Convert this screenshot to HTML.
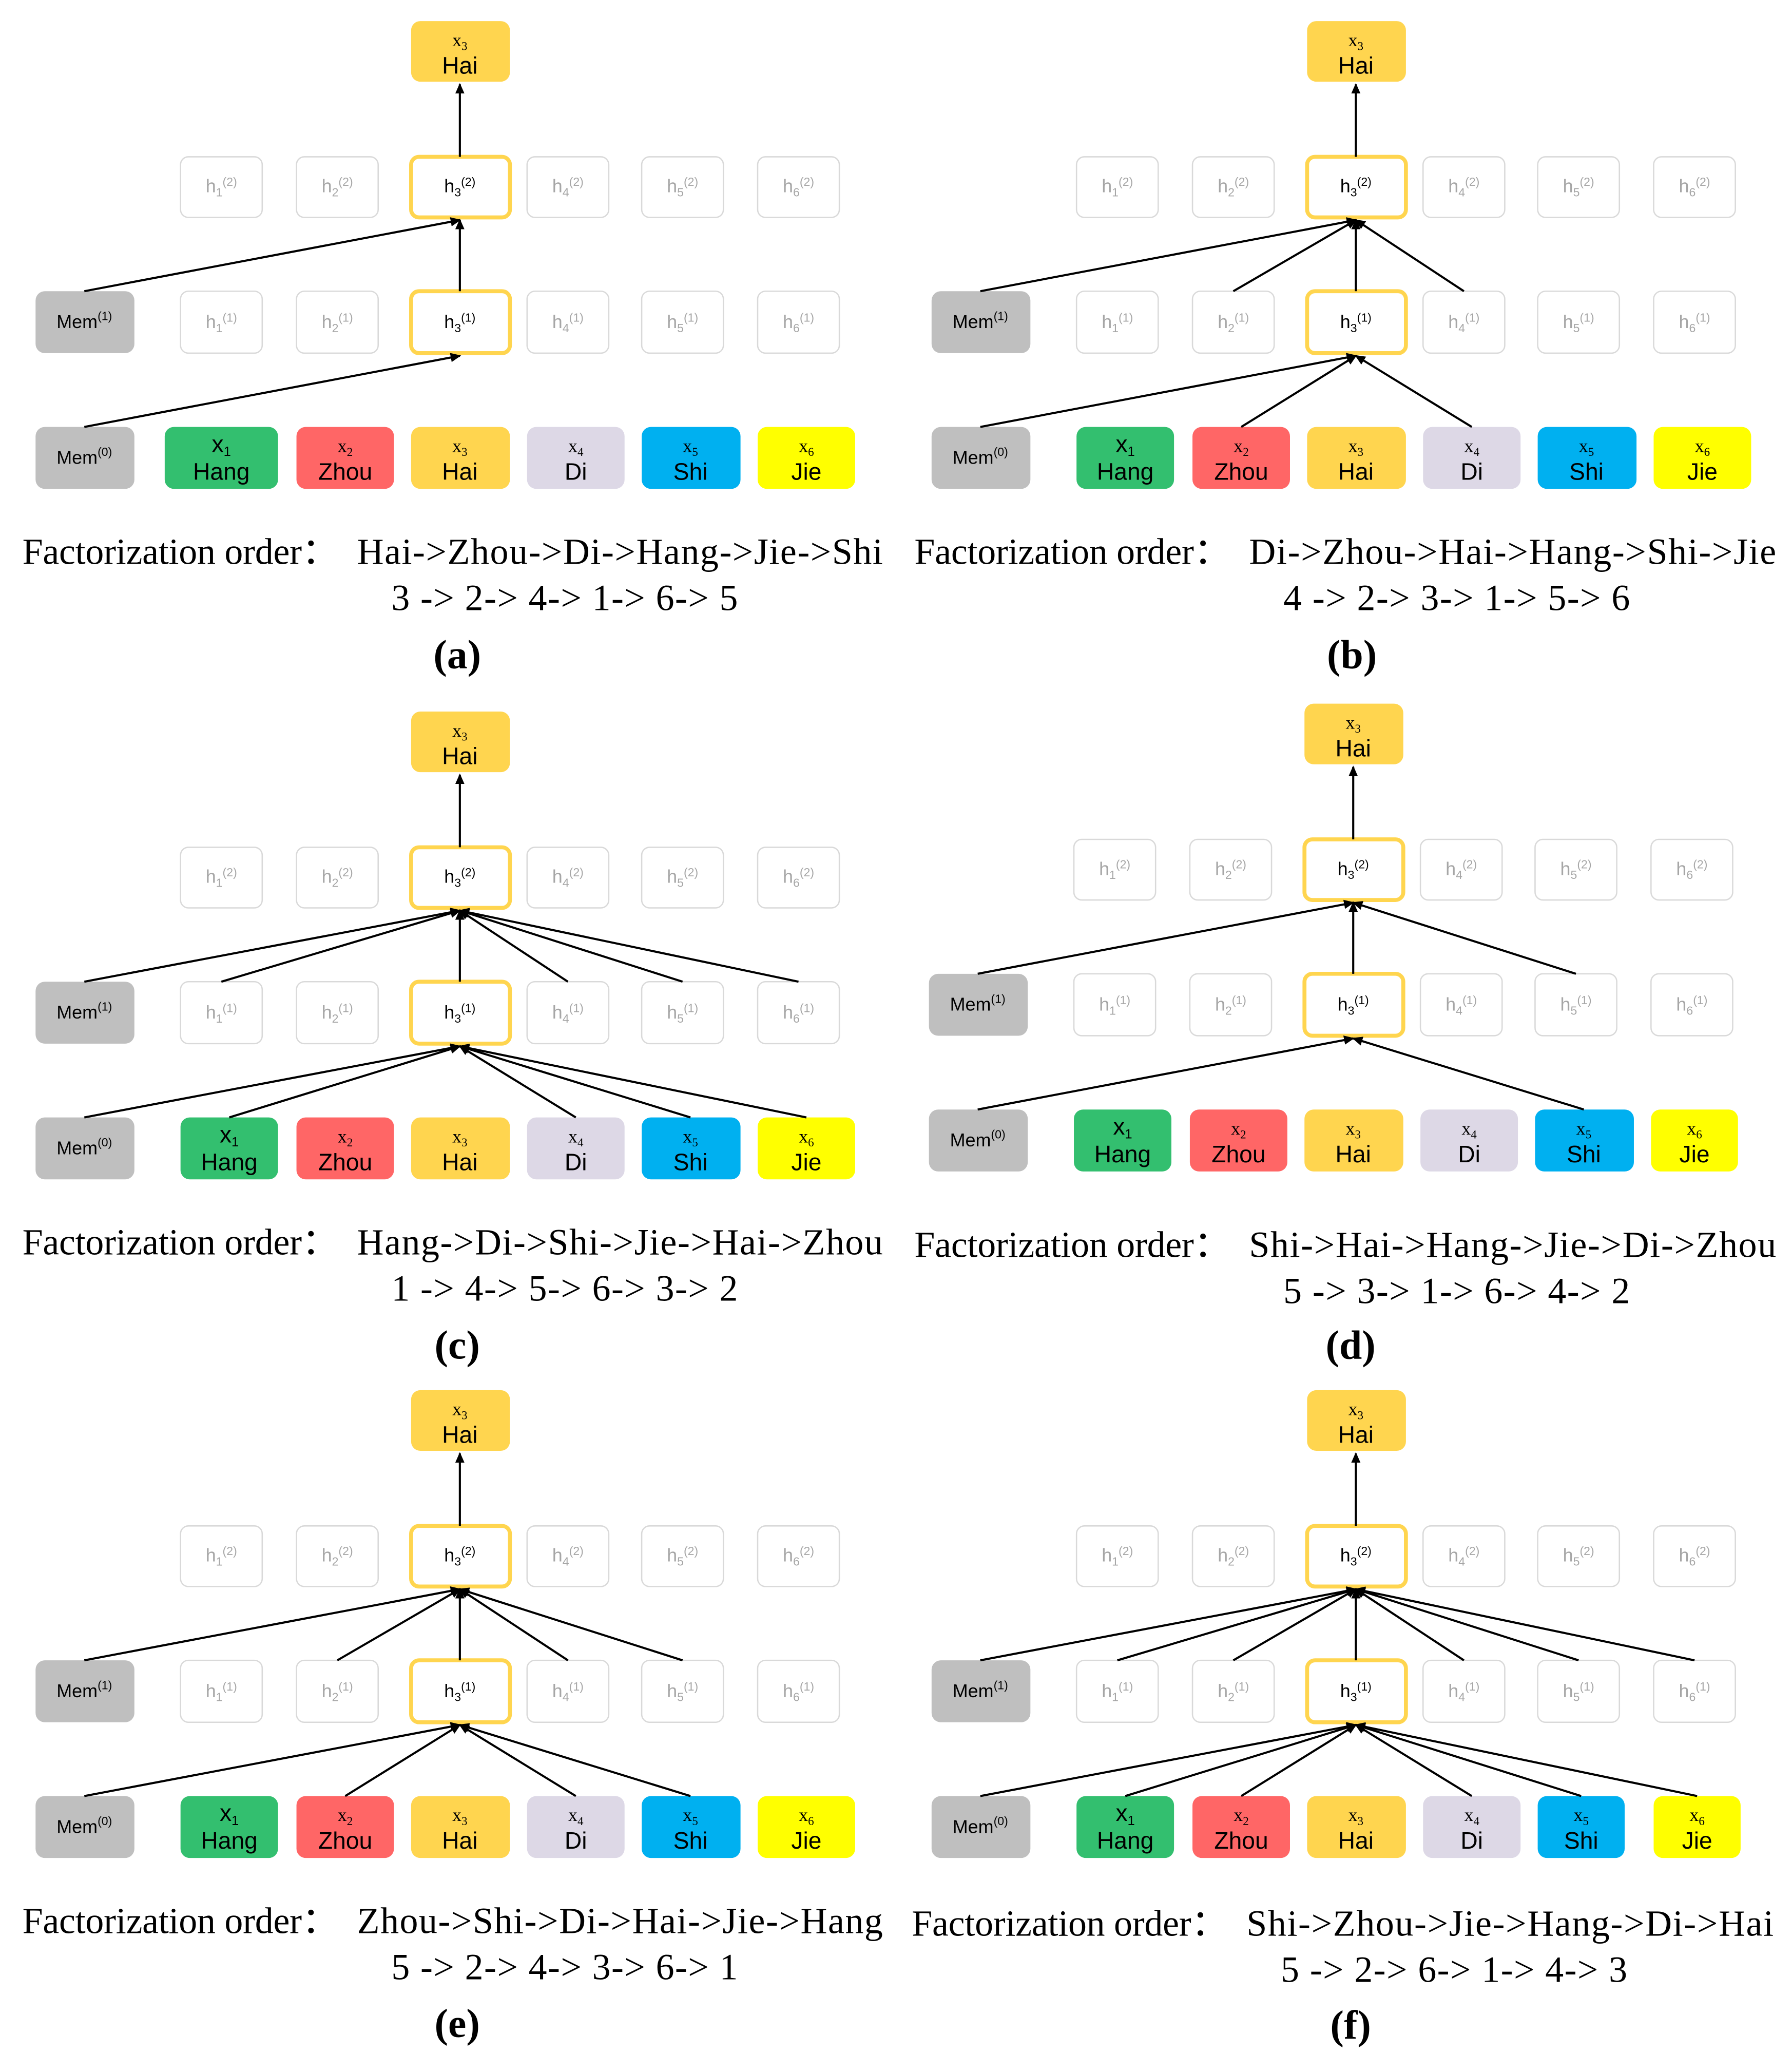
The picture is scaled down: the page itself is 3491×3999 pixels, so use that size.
<!DOCTYPE html>
<html><head><meta charset="utf-8"><style>
html,body{margin:0;padding:0;background:#fff}
svg{display:block}
.t{font-family:"Liberation Serif",serif;fill:#000}
.s{font-family:"Liberation Sans",sans-serif}
.f{fill:#fff;stroke:#d9d9d9;stroke-width:1}
.hl{fill:#fff;stroke:#FFD54F;stroke-width:3}
.hg{font-family:"Liberation Sans",sans-serif;font-size:14px;fill:#a6a6a6;text-anchor:middle}
.hb{font-family:"Liberation Sans",sans-serif;font-size:14px;fill:#000;text-anchor:middle}
.xl{font-family:"Liberation Serif",serif;font-size:14px;text-anchor:middle}
.wl{font-family:"Liberation Sans",sans-serif;font-size:18px;text-anchor:middle}
.a{stroke:#000;stroke-width:1.6;fill:none;marker-end:url(#ar)}
</style></head><body>
<svg width="3491" height="3999" viewBox="0 0 1360 1558" preserveAspectRatio="none" xmlns="http://www.w3.org/2000/svg">
<defs><marker id="ar" markerWidth="8" markerHeight="8" refX="7" refY="4" orient="auto" markerUnits="userSpaceOnUse"><path d="M0,0.5 L8,4 L0,7.5 z" fill="#000"/></marker></defs>

<!-- ========== PANEL TEMPLATE written out 6 times ========== -->
<!-- (a) -->
<g transform="translate(0,0)">
<rect x="312" y="16" width="75" height="46" rx="7" fill="#FFD54F"/>
<text class="xl" x="349" y="35">x<tspan font-size="9" dy="3">3</tspan></text><text class="wl" x="349" y="56">Hai</text>
<rect class="f" x="137" y="119" width="62" height="46" rx="6"/><rect class="f" x="225" y="119" width="62" height="46" rx="6"/><rect class="hl" x="312" y="119" width="75" height="46" rx="6"/><rect class="f" x="400" y="119" width="62" height="46" rx="6"/><rect class="f" x="487" y="119" width="62" height="46" rx="6"/><rect class="f" x="575" y="119" width="62" height="46" rx="6"/>
<text class="hg" x="168" y="146">h<tspan font-size="9" dy="3">1</tspan><tspan font-size="9" dy="-8">(2)</tspan></text><text class="hg" x="256" y="146">h<tspan font-size="9" dy="3">2</tspan><tspan font-size="9" dy="-8">(2)</tspan></text><text class="hb" x="349" y="146">h<tspan font-size="9" dy="3">3</tspan><tspan font-size="9" dy="-8">(2)</tspan></text><text class="hg" x="431" y="146">h<tspan font-size="9" dy="3">4</tspan><tspan font-size="9" dy="-8">(2)</tspan></text><text class="hg" x="518" y="146">h<tspan font-size="9" dy="3">5</tspan><tspan font-size="9" dy="-8">(2)</tspan></text><text class="hg" x="606" y="146">h<tspan font-size="9" dy="3">6</tspan><tspan font-size="9" dy="-8">(2)</tspan></text>
<rect x="27" y="221" width="75" height="47" rx="7" fill="#BFBFBF"/><text class="hb" x="64" y="249">Mem<tspan font-size="9" dy="-6">(1)</tspan></text>
<rect class="f" x="137" y="221" width="62" height="47" rx="6"/><rect class="f" x="225" y="221" width="62" height="47" rx="6"/><rect class="hl" x="312" y="221" width="75" height="47" rx="6"/><rect class="f" x="400" y="221" width="62" height="47" rx="6"/><rect class="f" x="487" y="221" width="62" height="47" rx="6"/><rect class="f" x="575" y="221" width="62" height="47" rx="6"/>
<text class="hg" x="168" y="249">h<tspan font-size="9" dy="3">1</tspan><tspan font-size="9" dy="-8">(1)</tspan></text><text class="hg" x="256" y="249">h<tspan font-size="9" dy="3">2</tspan><tspan font-size="9" dy="-8">(1)</tspan></text><text class="hb" x="349" y="249">h<tspan font-size="9" dy="3">3</tspan><tspan font-size="9" dy="-8">(1)</tspan></text><text class="hg" x="431" y="249">h<tspan font-size="9" dy="3">4</tspan><tspan font-size="9" dy="-8">(1)</tspan></text><text class="hg" x="518" y="249">h<tspan font-size="9" dy="3">5</tspan><tspan font-size="9" dy="-8">(1)</tspan></text><text class="hg" x="606" y="249">h<tspan font-size="9" dy="3">6</tspan><tspan font-size="9" dy="-8">(1)</tspan></text>
<rect x="27" y="324" width="75" height="47" rx="7" fill="#BFBFBF"/><text class="hb" x="64" y="352">Mem<tspan font-size="9" dy="-6">(0)</tspan></text>
<rect x="125" y="324" width="86" height="47" rx="7" fill="#33BF6F"/><rect x="225" y="324" width="74" height="47" rx="7" fill="#FF6666"/><rect x="312" y="324" width="75" height="47" rx="7" fill="#FFD54F"/><rect x="400" y="324" width="74" height="47" rx="7" fill="#DDD8E6"/><rect x="487" y="324" width="75" height="47" rx="7" fill="#00B0F0"/><rect x="575" y="324" width="74" height="47" rx="7" fill="#FFFF00"/>
<text class="wl" x="168" y="343" font-size="15">x<tspan font-size="10" dy="3">1</tspan></text><text class="wl" x="168" y="364">Hang</text>
<text class="xl" x="262" y="343">x<tspan font-size="9" dy="3">2</tspan></text><text class="wl" x="262" y="364">Zhou</text>
<text class="xl" x="349" y="343">x<tspan font-size="9" dy="3">3</tspan></text><text class="wl" x="349" y="364">Hai</text>
<text class="xl" x="437" y="343">x<tspan font-size="9" dy="3">4</tspan></text><text class="wl" x="437" y="364">Di</text>
<text class="xl" x="524" y="343">x<tspan font-size="9" dy="3">5</tspan></text><text class="wl" x="524" y="364">Shi</text>
<text class="xl" x="612" y="343">x<tspan font-size="9" dy="3">6</tspan></text><text class="wl" x="612" y="364">Jie</text>
<line class="a" x1="349" y1="119" x2="349" y2="64"/>
<line class="a" x1="349" y1="221" x2="349" y2="167"/>
<line class="a" x1="64" y1="221" x2="349" y2="167"/>
<line class="a" x1="64" y1="324" x2="349" y2="270"/>
<text class="t" x="17" y="428" font-size="28" textLength="240">Factorization order：</text>
<text class="t" x="271" y="428" font-size="28" textLength="399">Hai-&gt;Zhou-&gt;Di-&gt;Hang-&gt;Jie-&gt;Shi</text>
<text class="t" x="297" y="463" font-size="28" textLength="263">3 -&gt; 2-&gt; 4-&gt; 1-&gt; 6-&gt; 5</text>
<text class="t" x="347" y="507" font-size="31" font-weight="bold" text-anchor="middle">(a)</text>
</g>

<!-- (b) -->
<g transform="translate(680,0)">
<rect x="312" y="16" width="75" height="46" rx="7" fill="#FFD54F"/>
<text class="xl" x="349" y="35">x<tspan font-size="9" dy="3">3</tspan></text><text class="wl" x="349" y="56">Hai</text>
<rect class="f" x="137" y="119" width="62" height="46" rx="6"/><rect class="f" x="225" y="119" width="62" height="46" rx="6"/><rect class="hl" x="312" y="119" width="75" height="46" rx="6"/><rect class="f" x="400" y="119" width="62" height="46" rx="6"/><rect class="f" x="487" y="119" width="62" height="46" rx="6"/><rect class="f" x="575" y="119" width="62" height="46" rx="6"/>
<text class="hg" x="168" y="146">h<tspan font-size="9" dy="3">1</tspan><tspan font-size="9" dy="-8">(2)</tspan></text><text class="hg" x="256" y="146">h<tspan font-size="9" dy="3">2</tspan><tspan font-size="9" dy="-8">(2)</tspan></text><text class="hb" x="349" y="146">h<tspan font-size="9" dy="3">3</tspan><tspan font-size="9" dy="-8">(2)</tspan></text><text class="hg" x="431" y="146">h<tspan font-size="9" dy="3">4</tspan><tspan font-size="9" dy="-8">(2)</tspan></text><text class="hg" x="518" y="146">h<tspan font-size="9" dy="3">5</tspan><tspan font-size="9" dy="-8">(2)</tspan></text><text class="hg" x="606" y="146">h<tspan font-size="9" dy="3">6</tspan><tspan font-size="9" dy="-8">(2)</tspan></text>
<rect x="27" y="221" width="75" height="47" rx="7" fill="#BFBFBF"/><text class="hb" x="64" y="249">Mem<tspan font-size="9" dy="-6">(1)</tspan></text>
<rect class="f" x="137" y="221" width="62" height="47" rx="6"/><rect class="f" x="225" y="221" width="62" height="47" rx="6"/><rect class="hl" x="312" y="221" width="75" height="47" rx="6"/><rect class="f" x="400" y="221" width="62" height="47" rx="6"/><rect class="f" x="487" y="221" width="62" height="47" rx="6"/><rect class="f" x="575" y="221" width="62" height="47" rx="6"/>
<text class="hg" x="168" y="249">h<tspan font-size="9" dy="3">1</tspan><tspan font-size="9" dy="-8">(1)</tspan></text><text class="hg" x="256" y="249">h<tspan font-size="9" dy="3">2</tspan><tspan font-size="9" dy="-8">(1)</tspan></text><text class="hb" x="349" y="249">h<tspan font-size="9" dy="3">3</tspan><tspan font-size="9" dy="-8">(1)</tspan></text><text class="hg" x="431" y="249">h<tspan font-size="9" dy="3">4</tspan><tspan font-size="9" dy="-8">(1)</tspan></text><text class="hg" x="518" y="249">h<tspan font-size="9" dy="3">5</tspan><tspan font-size="9" dy="-8">(1)</tspan></text><text class="hg" x="606" y="249">h<tspan font-size="9" dy="3">6</tspan><tspan font-size="9" dy="-8">(1)</tspan></text>
<rect x="27" y="324" width="75" height="47" rx="7" fill="#BFBFBF"/><text class="hb" x="64" y="352">Mem<tspan font-size="9" dy="-6">(0)</tspan></text>
<rect x="137" y="324" width="74" height="47" rx="7" fill="#33BF6F"/><rect x="225" y="324" width="74" height="47" rx="7" fill="#FF6666"/><rect x="312" y="324" width="75" height="47" rx="7" fill="#FFD54F"/><rect x="400" y="324" width="74" height="47" rx="7" fill="#DDD8E6"/><rect x="487" y="324" width="75" height="47" rx="7" fill="#00B0F0"/><rect x="575" y="324" width="74" height="47" rx="7" fill="#FFFF00"/>
<text class="wl" x="174" y="343" font-size="15">x<tspan font-size="10" dy="3">1</tspan></text><text class="wl" x="174" y="364">Hang</text>
<text class="xl" x="262" y="343">x<tspan font-size="9" dy="3">2</tspan></text><text class="wl" x="262" y="364">Zhou</text>
<text class="xl" x="349" y="343">x<tspan font-size="9" dy="3">3</tspan></text><text class="wl" x="349" y="364">Hai</text>
<text class="xl" x="437" y="343">x<tspan font-size="9" dy="3">4</tspan></text><text class="wl" x="437" y="364">Di</text>
<text class="xl" x="524" y="343">x<tspan font-size="9" dy="3">5</tspan></text><text class="wl" x="524" y="364">Shi</text>
<text class="xl" x="612" y="343">x<tspan font-size="9" dy="3">6</tspan></text><text class="wl" x="612" y="364">Jie</text>
<line class="a" x1="349" y1="119" x2="349" y2="64"/>
<line class="a" x1="349" y1="221" x2="349" y2="167"/>
<line class="a" x1="64" y1="221" x2="349" y2="167"/>
<line class="a" x1="256" y1="221" x2="349" y2="167"/>
<line class="a" x1="431" y1="221" x2="349" y2="167"/>
<line class="a" x1="64" y1="324" x2="349" y2="270"/>
<line class="a" x1="262" y1="324" x2="349" y2="270"/>
<line class="a" x1="437" y1="324" x2="349" y2="270"/>
<text class="t" x="14" y="428" font-size="28" textLength="240">Factorization order：</text>
<text class="t" x="268" y="428" font-size="28" textLength="400">Di-&gt;Zhou-&gt;Hai-&gt;Hang-&gt;Shi-&gt;Jie</text>
<text class="t" x="294" y="463" font-size="28" textLength="263">4 -&gt; 2-&gt; 3-&gt; 1-&gt; 5-&gt; 6</text>
<text class="t" x="346" y="507" font-size="31" font-weight="bold" text-anchor="middle">(b)</text>
</g>

<!-- (c) -->
<g transform="translate(0,524)">
<rect x="312" y="16" width="75" height="46" rx="7" fill="#FFD54F"/>
<text class="xl" x="349" y="35">x<tspan font-size="9" dy="3">3</tspan></text><text class="wl" x="349" y="56">Hai</text>
<rect class="f" x="137" y="119" width="62" height="46" rx="6"/><rect class="f" x="225" y="119" width="62" height="46" rx="6"/><rect class="hl" x="312" y="119" width="75" height="46" rx="6"/><rect class="f" x="400" y="119" width="62" height="46" rx="6"/><rect class="f" x="487" y="119" width="62" height="46" rx="6"/><rect class="f" x="575" y="119" width="62" height="46" rx="6"/>
<text class="hg" x="168" y="146">h<tspan font-size="9" dy="3">1</tspan><tspan font-size="9" dy="-8">(2)</tspan></text><text class="hg" x="256" y="146">h<tspan font-size="9" dy="3">2</tspan><tspan font-size="9" dy="-8">(2)</tspan></text><text class="hb" x="349" y="146">h<tspan font-size="9" dy="3">3</tspan><tspan font-size="9" dy="-8">(2)</tspan></text><text class="hg" x="431" y="146">h<tspan font-size="9" dy="3">4</tspan><tspan font-size="9" dy="-8">(2)</tspan></text><text class="hg" x="518" y="146">h<tspan font-size="9" dy="3">5</tspan><tspan font-size="9" dy="-8">(2)</tspan></text><text class="hg" x="606" y="146">h<tspan font-size="9" dy="3">6</tspan><tspan font-size="9" dy="-8">(2)</tspan></text>
<rect x="27" y="221" width="75" height="47" rx="7" fill="#BFBFBF"/><text class="hb" x="64" y="249">Mem<tspan font-size="9" dy="-6">(1)</tspan></text>
<rect class="f" x="137" y="221" width="62" height="47" rx="6"/><rect class="f" x="225" y="221" width="62" height="47" rx="6"/><rect class="hl" x="312" y="221" width="75" height="47" rx="6"/><rect class="f" x="400" y="221" width="62" height="47" rx="6"/><rect class="f" x="487" y="221" width="62" height="47" rx="6"/><rect class="f" x="575" y="221" width="62" height="47" rx="6"/>
<text class="hg" x="168" y="249">h<tspan font-size="9" dy="3">1</tspan><tspan font-size="9" dy="-8">(1)</tspan></text><text class="hg" x="256" y="249">h<tspan font-size="9" dy="3">2</tspan><tspan font-size="9" dy="-8">(1)</tspan></text><text class="hb" x="349" y="249">h<tspan font-size="9" dy="3">3</tspan><tspan font-size="9" dy="-8">(1)</tspan></text><text class="hg" x="431" y="249">h<tspan font-size="9" dy="3">4</tspan><tspan font-size="9" dy="-8">(1)</tspan></text><text class="hg" x="518" y="249">h<tspan font-size="9" dy="3">5</tspan><tspan font-size="9" dy="-8">(1)</tspan></text><text class="hg" x="606" y="249">h<tspan font-size="9" dy="3">6</tspan><tspan font-size="9" dy="-8">(1)</tspan></text>
<rect x="27" y="324" width="75" height="47" rx="7" fill="#BFBFBF"/><text class="hb" x="64" y="352">Mem<tspan font-size="9" dy="-6">(0)</tspan></text>
<rect x="137" y="324" width="74" height="47" rx="7" fill="#33BF6F"/><rect x="225" y="324" width="74" height="47" rx="7" fill="#FF6666"/><rect x="312" y="324" width="75" height="47" rx="7" fill="#FFD54F"/><rect x="400" y="324" width="74" height="47" rx="7" fill="#DDD8E6"/><rect x="487" y="324" width="75" height="47" rx="7" fill="#00B0F0"/><rect x="575" y="324" width="74" height="47" rx="7" fill="#FFFF00"/>
<text class="wl" x="174" y="343" font-size="15">x<tspan font-size="10" dy="3">1</tspan></text><text class="wl" x="174" y="364">Hang</text>
<text class="xl" x="262" y="343">x<tspan font-size="9" dy="3">2</tspan></text><text class="wl" x="262" y="364">Zhou</text>
<text class="xl" x="349" y="343">x<tspan font-size="9" dy="3">3</tspan></text><text class="wl" x="349" y="364">Hai</text>
<text class="xl" x="437" y="343">x<tspan font-size="9" dy="3">4</tspan></text><text class="wl" x="437" y="364">Di</text>
<text class="xl" x="524" y="343">x<tspan font-size="9" dy="3">5</tspan></text><text class="wl" x="524" y="364">Shi</text>
<text class="xl" x="612" y="343">x<tspan font-size="9" dy="3">6</tspan></text><text class="wl" x="612" y="364">Jie</text>
<line class="a" x1="349" y1="119" x2="349" y2="64"/>
<line class="a" x1="349" y1="221" x2="349" y2="167"/>
<line class="a" x1="64" y1="221" x2="349" y2="167"/>
<line class="a" x1="168" y1="221" x2="349" y2="167"/>
<line class="a" x1="431" y1="221" x2="349" y2="167"/>
<line class="a" x1="518" y1="221" x2="349" y2="167"/>
<line class="a" x1="606" y1="221" x2="349" y2="167"/>
<line class="a" x1="64" y1="324" x2="349" y2="270"/>
<line class="a" x1="174" y1="324" x2="349" y2="270"/>
<line class="a" x1="437" y1="324" x2="349" y2="270"/>
<line class="a" x1="524" y1="324" x2="349" y2="270"/>
<line class="a" x1="612" y1="324" x2="349" y2="270"/>
<text class="t" x="17" y="428" font-size="28" textLength="240">Factorization order：</text>
<text class="t" x="271" y="428" font-size="28" textLength="399">Hang-&gt;Di-&gt;Shi-&gt;Jie-&gt;Hai-&gt;Zhou</text>
<text class="t" x="297" y="463" font-size="28" textLength="263">1 -&gt; 4-&gt; 5-&gt; 6-&gt; 3-&gt; 2</text>
<text class="t" x="347" y="507" font-size="31" font-weight="bold" text-anchor="middle">(c)</text>
</g>

<!-- (d) -->
<g transform="translate(678,518)">
<rect x="312" y="16" width="75" height="46" rx="7" fill="#FFD54F"/>
<text class="xl" x="349" y="35">x<tspan font-size="9" dy="3">3</tspan></text><text class="wl" x="349" y="56">Hai</text>
<rect class="f" x="137" y="119" width="62" height="46" rx="6"/><rect class="f" x="225" y="119" width="62" height="46" rx="6"/><rect class="hl" x="312" y="119" width="75" height="46" rx="6"/><rect class="f" x="400" y="119" width="62" height="46" rx="6"/><rect class="f" x="487" y="119" width="62" height="46" rx="6"/><rect class="f" x="575" y="119" width="62" height="46" rx="6"/>
<text class="hg" x="168" y="146">h<tspan font-size="9" dy="3">1</tspan><tspan font-size="9" dy="-8">(2)</tspan></text><text class="hg" x="256" y="146">h<tspan font-size="9" dy="3">2</tspan><tspan font-size="9" dy="-8">(2)</tspan></text><text class="hb" x="349" y="146">h<tspan font-size="9" dy="3">3</tspan><tspan font-size="9" dy="-8">(2)</tspan></text><text class="hg" x="431" y="146">h<tspan font-size="9" dy="3">4</tspan><tspan font-size="9" dy="-8">(2)</tspan></text><text class="hg" x="518" y="146">h<tspan font-size="9" dy="3">5</tspan><tspan font-size="9" dy="-8">(2)</tspan></text><text class="hg" x="606" y="146">h<tspan font-size="9" dy="3">6</tspan><tspan font-size="9" dy="-8">(2)</tspan></text>
<rect x="27" y="221" width="75" height="47" rx="7" fill="#BFBFBF"/><text class="hb" x="64" y="249">Mem<tspan font-size="9" dy="-6">(1)</tspan></text>
<rect class="f" x="137" y="221" width="62" height="47" rx="6"/><rect class="f" x="225" y="221" width="62" height="47" rx="6"/><rect class="hl" x="312" y="221" width="75" height="47" rx="6"/><rect class="f" x="400" y="221" width="62" height="47" rx="6"/><rect class="f" x="487" y="221" width="62" height="47" rx="6"/><rect class="f" x="575" y="221" width="62" height="47" rx="6"/>
<text class="hg" x="168" y="249">h<tspan font-size="9" dy="3">1</tspan><tspan font-size="9" dy="-8">(1)</tspan></text><text class="hg" x="256" y="249">h<tspan font-size="9" dy="3">2</tspan><tspan font-size="9" dy="-8">(1)</tspan></text><text class="hb" x="349" y="249">h<tspan font-size="9" dy="3">3</tspan><tspan font-size="9" dy="-8">(1)</tspan></text><text class="hg" x="431" y="249">h<tspan font-size="9" dy="3">4</tspan><tspan font-size="9" dy="-8">(1)</tspan></text><text class="hg" x="518" y="249">h<tspan font-size="9" dy="3">5</tspan><tspan font-size="9" dy="-8">(1)</tspan></text><text class="hg" x="606" y="249">h<tspan font-size="9" dy="3">6</tspan><tspan font-size="9" dy="-8">(1)</tspan></text>
<rect x="27" y="324" width="75" height="47" rx="7" fill="#BFBFBF"/><text class="hb" x="64" y="352">Mem<tspan font-size="9" dy="-6">(0)</tspan></text>
<rect x="137" y="324" width="74" height="47" rx="7" fill="#33BF6F"/><rect x="225" y="324" width="74" height="47" rx="7" fill="#FF6666"/><rect x="312" y="324" width="75" height="47" rx="7" fill="#FFD54F"/><rect x="400" y="324" width="74" height="47" rx="7" fill="#DDD8E6"/><rect x="487" y="324" width="75" height="47" rx="7" fill="#00B0F0"/><rect x="575" y="324" width="66" height="47" rx="7" fill="#FFFF00"/>
<text class="wl" x="174" y="343" font-size="15">x<tspan font-size="10" dy="3">1</tspan></text><text class="wl" x="174" y="364">Hang</text>
<text class="xl" x="262" y="343">x<tspan font-size="9" dy="3">2</tspan></text><text class="wl" x="262" y="364">Zhou</text>
<text class="xl" x="349" y="343">x<tspan font-size="9" dy="3">3</tspan></text><text class="wl" x="349" y="364">Hai</text>
<text class="xl" x="437" y="343">x<tspan font-size="9" dy="3">4</tspan></text><text class="wl" x="437" y="364">Di</text>
<text class="xl" x="524" y="343">x<tspan font-size="9" dy="3">5</tspan></text><text class="wl" x="524" y="364">Shi</text>
<text class="xl" x="608" y="343">x<tspan font-size="9" dy="3">6</tspan></text><text class="wl" x="608" y="364">Jie</text>
<line class="a" x1="349" y1="119" x2="349" y2="64"/>
<line class="a" x1="349" y1="221" x2="349" y2="167"/>
<line class="a" x1="64" y1="221" x2="349" y2="167"/>
<line class="a" x1="518" y1="221" x2="349" y2="167"/>
<line class="a" x1="64" y1="324" x2="349" y2="270"/>
<line class="a" x1="524" y1="324" x2="349" y2="270"/>
<text class="t" x="16" y="436" font-size="28" textLength="240">Factorization order：</text>
<text class="t" x="270" y="436" font-size="28" textLength="400">Shi-&gt;Hai-&gt;Hang-&gt;Jie-&gt;Di-&gt;Zhou</text>
<text class="t" x="296" y="471" font-size="28" textLength="263">5 -&gt; 3-&gt; 1-&gt; 6-&gt; 4-&gt; 2</text>
<text class="t" x="347" y="513" font-size="31" font-weight="bold" text-anchor="middle">(d)</text>
</g>

<!-- (e) -->
<g transform="translate(0,1039)">
<rect x="312" y="16" width="75" height="46" rx="7" fill="#FFD54F"/>
<text class="xl" x="349" y="35">x<tspan font-size="9" dy="3">3</tspan></text><text class="wl" x="349" y="56">Hai</text>
<rect class="f" x="137" y="119" width="62" height="46" rx="6"/><rect class="f" x="225" y="119" width="62" height="46" rx="6"/><rect class="hl" x="312" y="119" width="75" height="46" rx="6"/><rect class="f" x="400" y="119" width="62" height="46" rx="6"/><rect class="f" x="487" y="119" width="62" height="46" rx="6"/><rect class="f" x="575" y="119" width="62" height="46" rx="6"/>
<text class="hg" x="168" y="146">h<tspan font-size="9" dy="3">1</tspan><tspan font-size="9" dy="-8">(2)</tspan></text><text class="hg" x="256" y="146">h<tspan font-size="9" dy="3">2</tspan><tspan font-size="9" dy="-8">(2)</tspan></text><text class="hb" x="349" y="146">h<tspan font-size="9" dy="3">3</tspan><tspan font-size="9" dy="-8">(2)</tspan></text><text class="hg" x="431" y="146">h<tspan font-size="9" dy="3">4</tspan><tspan font-size="9" dy="-8">(2)</tspan></text><text class="hg" x="518" y="146">h<tspan font-size="9" dy="3">5</tspan><tspan font-size="9" dy="-8">(2)</tspan></text><text class="hg" x="606" y="146">h<tspan font-size="9" dy="3">6</tspan><tspan font-size="9" dy="-8">(2)</tspan></text>
<rect x="27" y="221" width="75" height="47" rx="7" fill="#BFBFBF"/><text class="hb" x="64" y="249">Mem<tspan font-size="9" dy="-6">(1)</tspan></text>
<rect class="f" x="137" y="221" width="62" height="47" rx="6"/><rect class="f" x="225" y="221" width="62" height="47" rx="6"/><rect class="hl" x="312" y="221" width="75" height="47" rx="6"/><rect class="f" x="400" y="221" width="62" height="47" rx="6"/><rect class="f" x="487" y="221" width="62" height="47" rx="6"/><rect class="f" x="575" y="221" width="62" height="47" rx="6"/>
<text class="hg" x="168" y="249">h<tspan font-size="9" dy="3">1</tspan><tspan font-size="9" dy="-8">(1)</tspan></text><text class="hg" x="256" y="249">h<tspan font-size="9" dy="3">2</tspan><tspan font-size="9" dy="-8">(1)</tspan></text><text class="hb" x="349" y="249">h<tspan font-size="9" dy="3">3</tspan><tspan font-size="9" dy="-8">(1)</tspan></text><text class="hg" x="431" y="249">h<tspan font-size="9" dy="3">4</tspan><tspan font-size="9" dy="-8">(1)</tspan></text><text class="hg" x="518" y="249">h<tspan font-size="9" dy="3">5</tspan><tspan font-size="9" dy="-8">(1)</tspan></text><text class="hg" x="606" y="249">h<tspan font-size="9" dy="3">6</tspan><tspan font-size="9" dy="-8">(1)</tspan></text>
<rect x="27" y="324" width="75" height="47" rx="7" fill="#BFBFBF"/><text class="hb" x="64" y="352">Mem<tspan font-size="9" dy="-6">(0)</tspan></text>
<rect x="137" y="324" width="74" height="47" rx="7" fill="#33BF6F"/><rect x="225" y="324" width="74" height="47" rx="7" fill="#FF6666"/><rect x="312" y="324" width="75" height="47" rx="7" fill="#FFD54F"/><rect x="400" y="324" width="74" height="47" rx="7" fill="#DDD8E6"/><rect x="487" y="324" width="75" height="47" rx="7" fill="#00B0F0"/><rect x="575" y="324" width="74" height="47" rx="7" fill="#FFFF00"/>
<text class="wl" x="174" y="343" font-size="15">x<tspan font-size="10" dy="3">1</tspan></text><text class="wl" x="174" y="364">Hang</text>
<text class="xl" x="262" y="343">x<tspan font-size="9" dy="3">2</tspan></text><text class="wl" x="262" y="364">Zhou</text>
<text class="xl" x="349" y="343">x<tspan font-size="9" dy="3">3</tspan></text><text class="wl" x="349" y="364">Hai</text>
<text class="xl" x="437" y="343">x<tspan font-size="9" dy="3">4</tspan></text><text class="wl" x="437" y="364">Di</text>
<text class="xl" x="524" y="343">x<tspan font-size="9" dy="3">5</tspan></text><text class="wl" x="524" y="364">Shi</text>
<text class="xl" x="612" y="343">x<tspan font-size="9" dy="3">6</tspan></text><text class="wl" x="612" y="364">Jie</text>
<line class="a" x1="349" y1="119" x2="349" y2="64"/>
<line class="a" x1="349" y1="221" x2="349" y2="167"/>
<line class="a" x1="64" y1="221" x2="349" y2="167"/>
<line class="a" x1="256" y1="221" x2="349" y2="167"/>
<line class="a" x1="431" y1="221" x2="349" y2="167"/>
<line class="a" x1="518" y1="221" x2="349" y2="167"/>
<line class="a" x1="64" y1="324" x2="349" y2="270"/>
<line class="a" x1="262" y1="324" x2="349" y2="270"/>
<line class="a" x1="437" y1="324" x2="349" y2="270"/>
<line class="a" x1="524" y1="324" x2="349" y2="270"/>
<text class="t" x="17" y="428" font-size="28" textLength="240">Factorization order：</text>
<text class="t" x="271" y="428" font-size="28" textLength="399">Zhou-&gt;Shi-&gt;Di-&gt;Hai-&gt;Jie-&gt;Hang</text>
<text class="t" x="297" y="463" font-size="28" textLength="263">5 -&gt; 2-&gt; 4-&gt; 3-&gt; 6-&gt; 1</text>
<text class="t" x="347" y="507" font-size="31" font-weight="bold" text-anchor="middle">(e)</text>
</g>

<!-- (f) -->
<g transform="translate(680,1039)">
<rect x="312" y="16" width="75" height="46" rx="7" fill="#FFD54F"/>
<text class="xl" x="349" y="35">x<tspan font-size="9" dy="3">3</tspan></text><text class="wl" x="349" y="56">Hai</text>
<rect class="f" x="137" y="119" width="62" height="46" rx="6"/><rect class="f" x="225" y="119" width="62" height="46" rx="6"/><rect class="hl" x="312" y="119" width="75" height="46" rx="6"/><rect class="f" x="400" y="119" width="62" height="46" rx="6"/><rect class="f" x="487" y="119" width="62" height="46" rx="6"/><rect class="f" x="575" y="119" width="62" height="46" rx="6"/>
<text class="hg" x="168" y="146">h<tspan font-size="9" dy="3">1</tspan><tspan font-size="9" dy="-8">(2)</tspan></text><text class="hg" x="256" y="146">h<tspan font-size="9" dy="3">2</tspan><tspan font-size="9" dy="-8">(2)</tspan></text><text class="hb" x="349" y="146">h<tspan font-size="9" dy="3">3</tspan><tspan font-size="9" dy="-8">(2)</tspan></text><text class="hg" x="431" y="146">h<tspan font-size="9" dy="3">4</tspan><tspan font-size="9" dy="-8">(2)</tspan></text><text class="hg" x="518" y="146">h<tspan font-size="9" dy="3">5</tspan><tspan font-size="9" dy="-8">(2)</tspan></text><text class="hg" x="606" y="146">h<tspan font-size="9" dy="3">6</tspan><tspan font-size="9" dy="-8">(2)</tspan></text>
<rect x="27" y="221" width="75" height="47" rx="7" fill="#BFBFBF"/><text class="hb" x="64" y="249">Mem<tspan font-size="9" dy="-6">(1)</tspan></text>
<rect class="f" x="137" y="221" width="62" height="47" rx="6"/><rect class="f" x="225" y="221" width="62" height="47" rx="6"/><rect class="hl" x="312" y="221" width="75" height="47" rx="6"/><rect class="f" x="400" y="221" width="62" height="47" rx="6"/><rect class="f" x="487" y="221" width="62" height="47" rx="6"/><rect class="f" x="575" y="221" width="62" height="47" rx="6"/>
<text class="hg" x="168" y="249">h<tspan font-size="9" dy="3">1</tspan><tspan font-size="9" dy="-8">(1)</tspan></text><text class="hg" x="256" y="249">h<tspan font-size="9" dy="3">2</tspan><tspan font-size="9" dy="-8">(1)</tspan></text><text class="hb" x="349" y="249">h<tspan font-size="9" dy="3">3</tspan><tspan font-size="9" dy="-8">(1)</tspan></text><text class="hg" x="431" y="249">h<tspan font-size="9" dy="3">4</tspan><tspan font-size="9" dy="-8">(1)</tspan></text><text class="hg" x="518" y="249">h<tspan font-size="9" dy="3">5</tspan><tspan font-size="9" dy="-8">(1)</tspan></text><text class="hg" x="606" y="249">h<tspan font-size="9" dy="3">6</tspan><tspan font-size="9" dy="-8">(1)</tspan></text>
<rect x="27" y="324" width="75" height="47" rx="7" fill="#BFBFBF"/><text class="hb" x="64" y="352">Mem<tspan font-size="9" dy="-6">(0)</tspan></text>
<rect x="137" y="324" width="74" height="47" rx="7" fill="#33BF6F"/><rect x="225" y="324" width="74" height="47" rx="7" fill="#FF6666"/><rect x="312" y="324" width="75" height="47" rx="7" fill="#FFD54F"/><rect x="400" y="324" width="74" height="47" rx="7" fill="#DDD8E6"/><rect x="487" y="324" width="66" height="47" rx="7" fill="#00B0F0"/><rect x="575" y="324" width="66" height="47" rx="7" fill="#FFFF00"/>
<text class="wl" x="174" y="343" font-size="15">x<tspan font-size="10" dy="3">1</tspan></text><text class="wl" x="174" y="364">Hang</text>
<text class="xl" x="262" y="343">x<tspan font-size="9" dy="3">2</tspan></text><text class="wl" x="262" y="364">Zhou</text>
<text class="xl" x="349" y="343">x<tspan font-size="9" dy="3">3</tspan></text><text class="wl" x="349" y="364">Hai</text>
<text class="xl" x="437" y="343">x<tspan font-size="9" dy="3">4</tspan></text><text class="wl" x="437" y="364">Di</text>
<text class="xl" x="520" y="343">x<tspan font-size="9" dy="3">5</tspan></text><text class="wl" x="520" y="364">Shi</text>
<text class="xl" x="608" y="343">x<tspan font-size="9" dy="3">6</tspan></text><text class="wl" x="608" y="364">Jie</text>
<line class="a" x1="349" y1="119" x2="349" y2="64"/>
<line class="a" x1="349" y1="221" x2="349" y2="167"/>
<line class="a" x1="64" y1="221" x2="349" y2="167"/>
<line class="a" x1="168" y1="221" x2="349" y2="167"/>
<line class="a" x1="256" y1="221" x2="349" y2="167"/>
<line class="a" x1="431" y1="221" x2="349" y2="167"/>
<line class="a" x1="518" y1="221" x2="349" y2="167"/>
<line class="a" x1="606" y1="221" x2="349" y2="167"/>
<line class="a" x1="64" y1="324" x2="349" y2="270"/>
<line class="a" x1="174" y1="324" x2="349" y2="270"/>
<line class="a" x1="262" y1="324" x2="349" y2="270"/>
<line class="a" x1="437" y1="324" x2="349" y2="270"/>
<line class="a" x1="520" y1="324" x2="349" y2="270"/>
<line class="a" x1="608" y1="324" x2="349" y2="270"/>
<text class="t" x="12" y="430" font-size="28" textLength="240">Factorization order：</text>
<text class="t" x="266" y="430" font-size="28" textLength="400">Shi-&gt;Zhou-&gt;Jie-&gt;Hang-&gt;Di-&gt;Hai</text>
<text class="t" x="292" y="465" font-size="28" textLength="263">5 -&gt; 2-&gt; 6-&gt; 1-&gt; 4-&gt; 3</text>
<text class="t" x="345" y="508" font-size="31" font-weight="bold" text-anchor="middle">(f)</text>
</g>
</svg>
</body></html>
